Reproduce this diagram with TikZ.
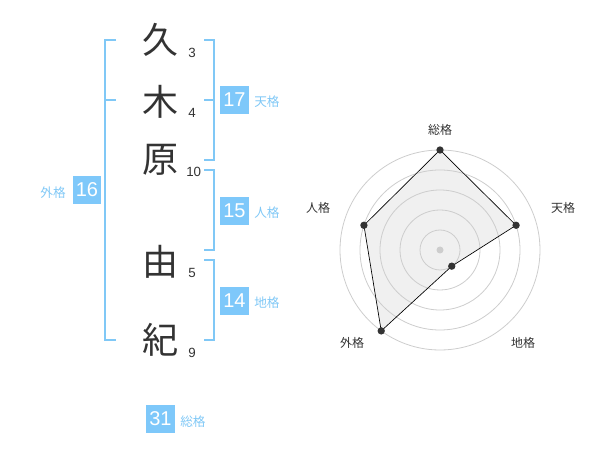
\documentclass[tikz,border=0pt]{standalone}
\usepackage{fontspec}
\setmainfont{Liberation Sans}
\newfontfamily\jpfont{Noto Sans CJK JP}
\definecolor{kakublue}{RGB}{128,200,246}
\definecolor{boxblue}{RGB}{126,200,250}
\definecolor{inkgray}{RGB}{51,51,51}
\definecolor{ringgray}{RGB}{205,205,205}
\definecolor{areagray}{RGB}{240,240,240}
\tikzset{
  kanji/.style={font=\jpfont\fontsize{27}{27}\selectfont, text=inkgray, inner sep=0pt},
  strokes/.style={font=\fontsize{10}{10}\selectfont, text=inkgray, anchor=west, inner sep=0pt},
  kakubox/.style={fill=boxblue, text=white, minimum width=21.5pt, minimum height=21pt, inner sep=0pt, font=\fontsize{15}{15}\selectfont},
  kakuname/.style={font=\jpfont\fontsize{9.5}{9.5}\selectfont, text=kakublue, inner sep=0pt},
  bracket/.style={draw=kakublue, line width=1.5pt},
  ring/.style={draw=ringgray, line width=0.6pt},
  axisname/.style={font=\jpfont\fontsize{9}{9}\selectfont, text=inkgray, inner sep=0pt},
  dot/.style={circle, fill=inkgray, inner sep=0pt, minimum size=5.5pt}
}
\begin{document}
\begin{tikzpicture}[x=0.75pt,y=0.75pt,yscale=-1,xscale=1]
\path[use as bounding box] (0,0) rectangle (600,470);

%Name characters
\node[kanji] (k1) at (160,40) {久};
\node[kanji] (k2) at (160,102) {木};
\node[kanji] (k3) at (160,160) {原};
\node[kanji] (k4) at (160,262) {由};
\node[kanji] (k5) at (160,340) {紀};
%Stroke counts
\node[strokes] (s1) at (188,53) {3};
\node[strokes] (s2) at (188,113) {4};
\node[strokes] (s3) at (186,172) {10};
\node[strokes] (s4) at (188,273) {5};
\node[strokes] (s5) at (188,353) {9};

%Straight Lines (gaikaku)
\draw[bracket] (116,40) -- (105,40) -- (105,340) -- (116,340) ;
\draw[bracket] (105,100) -- (116,100) ;
%Straight Lines (tenkaku)
\draw[bracket] (204,40) -- (214,40) -- (214,160) -- (204,160) ;
\draw[bracket] (204,100) -- (214,100) ;
%Straight Lines (jinkaku)
\draw[bracket] (204,170) -- (214,170) -- (214,250) -- (204,250) ;
%Straight Lines (chikaku)
\draw[bracket] (204,260) -- (214,260) -- (214,340) -- (204,340) ;

%Boxes and labels
\node[kakubox] (ten) at (234.5,100) {17};
\node[kakuname, anchor=west] (tenl) at (254,102) {天格};
\node[kakubox] (jin) at (234.5,211) {15};
\node[kakuname, anchor=west] (jinl) at (254,213) {人格};
\node[kakubox] (chi) at (234.5,301) {14};
\node[kakuname, anchor=west] (chil) at (254,303) {地格};
\node[kakubox] (gai) at (87,190) {16};
\node[kakuname, anchor=east] (gail) at (66,193) {外格};
\node[kakubox] (sou) at (160.5,419) {31};
\node[kakuname, anchor=west] (soul) at (180,422) {総格};

%Radar points
\path (440,250) ++(90:-100) coordinate (pSou);
\path (440,250) ++(-18:80) coordinate (pTen);
\path (440,250) ++(54:20) coordinate (pChi);
\path (440,250) ++(126:100) coordinate (pGai);
\path (440,250) ++(198:80) coordinate (pJin);
\fill[areagray] (pSou) -- (pTen) -- (pChi) -- (pGai) -- (pJin) -- cycle;

%Shape: Circles
\foreach \r in {20,40,...,100}
  \draw[ring] (440,250) circle (\r);
\fill[ringgray] (440,250) circle (3.5);

\draw[black, line width=0.5pt]
  (pSou) -- (pTen) -- (pChi) -- (pGai) -- (pJin) -- cycle;
\foreach \p in {pSou,pTen,pChi,pGai,pJin}
  \node[dot] at (\p) {};

%Axis names
\node[axisname] (aSou) at (440,130) {総格};
\node[axisname] (aTen) at (563,208) {天格};
\node[axisname] (aChi) at (523,343) {地格};
\node[axisname] (aGai) at (352,343) {外格};
\node[axisname] (aJin) at (318,208) {人格};

\end{tikzpicture}
\end{document}
